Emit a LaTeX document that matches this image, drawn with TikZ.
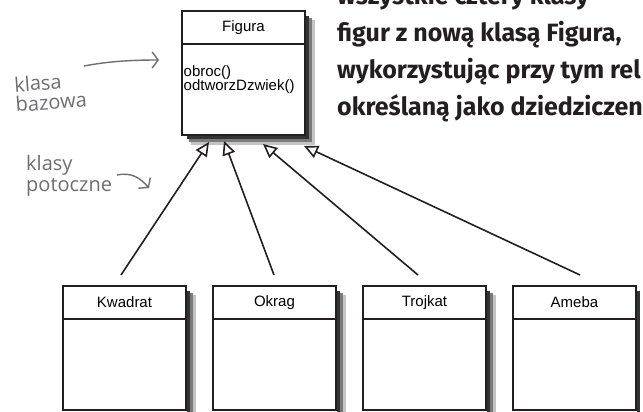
\documentclass[tikz,border=0pt]{standalone}
\usepackage{fontspec}
\setmainfont{Liberation Sans}
\newfontfamily\opis{Fira Sans}
\newfontfamily\reka{Open Sans}
\usetikzlibrary{positioning}
\usetikzlibrary{arrows.meta}
\definecolor{tusz}{HTML}{231F20}
\definecolor{olowek}{HTML}{6D6E71}
\definecolor{cienA}{HTML}{333333}
\definecolor{cienB}{HTML}{7A7A7A}
\definecolor{cienC}{HTML}{C4C4C4}

\begin{document}
\begin{tikzpicture}[x=1pt,y=1pt,
	klasa/.style={draw=tusz,line width=1.5pt,fill=white,inner sep=0pt,outer sep=0pt,
		minimum width=123pt,minimum height=33pt,font=\fontsize{15}{14}\selectfont},
	cialo/.style={klasa,minimum height=91pt},
	pasA/.style={draw=cienA,line width=3pt},
	pasB/.style={draw=cienB,line width=3pt},
	pasC/.style={draw=cienC,line width=3pt},
	dziedzicz/.style={draw=tusz,line width=1.6pt,-{Triangle[open,fill=white,length=14pt,width=13pt]}},
	uwaga/.style={draw=olowek,line width=1.4pt,-{Straight Barb[length=6pt,width=16pt]}}]
	\useasboundingbox (0,0) rectangle (643,-412);
	% klasa bazowa
	\node[klasa] (figura) at (243.5,-27.5) {Figura};
	\node[cialo,below=0pt of figura] (figuraCialo) {};
	\node[anchor=north west,inner sep=0pt,align=left,font=\fontsize{15}{14}\selectfont]
		(metody) at ([shift={(1.5,-21)}]figuraCialo.north west) {obroc()\\odtworzDzwiek()};
	% klasy potomne
	\node[klasa] (kwadrat) at (124.5,-302.5) {Kwadrat};
	\node[klasa,right=27pt of kwadrat] (okrag) {Okrag};
	\node[klasa,right=27pt of okrag] (trojkat) {Trojkat};
	\node[klasa,right=27pt of trojkat] (ameba) {Ameba};
	\node[cialo,below=0pt of kwadrat] (kwadratCialo) {};
	\node[cialo,below=0pt of okrag] (okragCialo) {};
	\node[cialo,below=0pt of trojkat] (trojkatCialo) {};
	\node[cialo,below=0pt of ameba] (amebaCialo) {};
	% cienie
	\draw[pasA] ([shift={(2.25,-5)}]figura.north east) -- ([shift={(2.25,-2.25)}]figuraCialo.south east) -- ([shift={(5,-2.25)}]figuraCialo.south west);
	\draw[pasB] ([shift={(5.25,-7)}]figura.north east) -- ([shift={(5.25,-5.25)}]figuraCialo.south east) -- ([shift={(7,-5.25)}]figuraCialo.south west);
	\draw[pasC] ([shift={(8.25,-9)}]figura.north east) -- ([shift={(8.25,-8.25)}]figuraCialo.south east) -- ([shift={(9,-8.25)}]figuraCialo.south west);
	\draw[pasA] ([shift={(2.25,-5)}]kwadrat.north east) -- ([shift={(2.25,-2.25)}]kwadratCialo.south east);
	\draw[pasB] ([shift={(5.25,-7)}]kwadrat.north east) -- ([shift={(5.25,-5.25)}]kwadratCialo.south east);
	\draw[pasC] ([shift={(8.25,-9)}]kwadrat.north east) -- ([shift={(8.25,-8.25)}]kwadratCialo.south east);
	\draw[pasA] ([shift={(2.25,-5)}]okrag.north east) -- ([shift={(2.25,-2.25)}]okragCialo.south east);
	\draw[pasB] ([shift={(5.25,-7)}]okrag.north east) -- ([shift={(5.25,-5.25)}]okragCialo.south east);
	\draw[pasC] ([shift={(8.25,-9)}]okrag.north east) -- ([shift={(8.25,-8.25)}]okragCialo.south east);
	\draw[pasA] ([shift={(2.25,-5)}]trojkat.north east) -- ([shift={(2.25,-2.25)}]trojkatCialo.south east);
	\draw[pasB] ([shift={(5.25,-7)}]trojkat.north east) -- ([shift={(5.25,-5.25)}]trojkatCialo.south east);
	\draw[pasC] ([shift={(8.25,-9)}]trojkat.north east) -- ([shift={(8.25,-8.25)}]trojkatCialo.south east);
	\draw[pasA] ([shift={(2.25,-5)}]ameba.north east) -- ([shift={(2.25,-2.25)}]amebaCialo.south east);
	% dziedziczenie
	\draw[dziedzicz] ([shift={(-3.5,11)}]kwadrat.north) -- ([shift={(-34.5,-7)}]figuraCialo.south);
	\draw[dziedzicz] ([shift={(-0.5,11)}]okrag.north) -- ([shift={(-19.5,-6)}]figuraCialo.south);
	\draw[dziedzicz] ([shift={(-6.5,11)}]trojkat.north) -- ([shift={(19.5,-9)}]figuraCialo.south);
	\draw[dziedzicz] ([shift={(5.5,11)}]ameba.north) -- ([shift={(60.5,-11)}]figuraCialo.south);
	% opisy
	\node[anchor=base west,inner sep=0pt,align=left,text=olowek,rotate=4,
		font=\reka\fontsize{20}{20}\selectfont] (bazowaTxt) at (16,-112) {klasa\\bazowa};
	\node[anchor=base west,inner sep=0pt,align=left,text=olowek,
		font=\reka\fontsize{20}{21}\selectfont] (potomneTxt) at (26,-191) {klasy\\potoczne};
	\coordinate (bazowaOgon) at (84,-66);
	\coordinate (bazowaGrot) at (159,-60);
	\coordinate (potomneOgon) at (117,-175);
	\coordinate (potomneGrot) at (149,-188);
	\draw[uwaga] (bazowaOgon) .. controls (110,-61) and (135,-60) .. (bazowaGrot);
	\draw[uwaga] (potomneOgon) .. controls (132,-172) and (140,-178) .. (potomneGrot);
	\node[anchor=base west,inner sep=0pt,align=left,text=tusz,
		font=\opis\bfseries\fontsize{25}{37}\selectfont] (opisTxt) at (337,-115)
		{wszystkie cztery klasy\\figur z nową klasą Figura,\\wykorzystując przy tym rel\\określaną jako dziedziczeni};
\end{tikzpicture}
\end{document}
